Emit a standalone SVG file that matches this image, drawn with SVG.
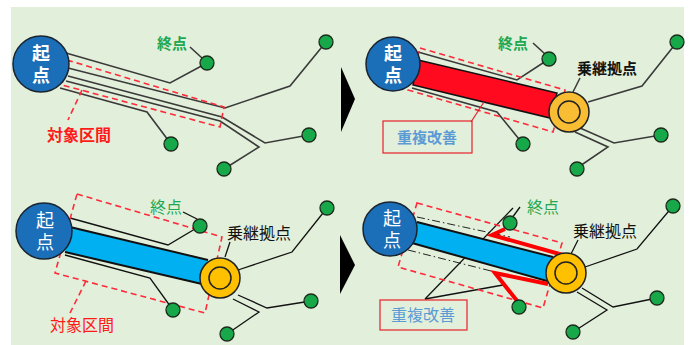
<svg xmlns="http://www.w3.org/2000/svg" width="693" height="345" viewBox="0 0 693 345">
<style>
.bg{fill:#E2EFDA}
.ln{fill:none;stroke:#3a3a3a;stroke-width:1.6}
.lnb{fill:none;stroke:#111;stroke-width:1.3}
.nd{fill:#17A84A;stroke:#1d2b1d;stroke-width:1.3}
.st{fill:#1B6EB8;stroke:#1a2430;stroke-width:1.5}
.hub{stroke:#222;stroke-width:1.5}
.dash{fill:none;stroke:#FF2A3A;stroke-width:1.6;stroke-dasharray:6 4}
.dd{fill:none;stroke:#222;stroke-width:1;stroke-dasharray:8 3 1.5 3}
.tw{font-family:"Noto Sans CJK JP",sans-serif;fill:#fff;text-anchor:middle;writing-mode:vertical-rl;letter-spacing:4px}
.tg{font-family:"Noto Sans CJK JP",sans-serif;fill:#1DA851}
.tk{font-family:"Noto Sans CJK JP",sans-serif;fill:#111}
.tr{font-family:"Noto Sans CJK JP",sans-serif;fill:#FF1A1A}
.tb{font-family:"Noto Sans CJK JP",sans-serif;fill:#5B9BD5;text-anchor:middle}
</style>
<rect x="11" y="7" width="673" height="338" class="bg"/>

<g id="arrows">
<polygon points="341,67 355,99 341,132" fill="#000"/>
<polygon points="340,235 355,265 340,294" fill="#000"/>
</g>

<g id="connectors">
<!-- Panel 1 -->
<polyline class="ln" points="66,53 170,83 207,63"/>
<polyline class="ln" points="68,68 225,108 290,86 326,42"/>
<polyline class="ln" points="68,76 222,117 265,143 309,135"/>
<polyline class="ln" points="66,81 220,121 259,147 224,169"/>
<polyline class="ln" points="60,88 147,112 171,144"/>
<line class="ln" x1="190" y1="47" x2="202" y2="58"/>

<!-- Panel 2 -->
<polyline class="ln" points="418,52 517,80 549,59"/>
<polyline class="ln" points="412,88 497,112 523,144"/>
<polyline class="ln" points="588,102 642,86 677,42"/>
<polyline class="ln" points="580,128 614,143 661,135"/>
<polyline class="ln" points="575,132 608,147 577,168"/>
<line class="ln" x1="533" y1="43" x2="545" y2="54"/>
<line class="ln" x1="580" y1="78" x2="573" y2="92"/>

<!-- Panel 3 -->
<polyline class="lnb" points="70,218 168,245 200,226"/>
<polyline class="lnb" points="65,255 150,278 173,310"/>
<polyline class="lnb" points="238,270 292,252 327,208"/>
<polyline class="lnb" points="238,295 267,308 311,301"/>
<polyline class="lnb" points="233,299 259,312 227,334"/>
<line class="lnb" x1="183" y1="212" x2="197" y2="219"/>
<line class="lnb" x1="230" y1="242" x2="225" y2="257"/>

<!-- Panel 4 -->
<polyline class="lnb" points="585,267 637,249 673,206"/>
<polyline class="lnb" points="582,288 613,307 657,298"/>
<polyline class="lnb" points="577,292 607,310 573,332"/>
<line class="lnb" x1="520" y1="207" x2="512" y2="218"/>
<line class="lnb" x1="578" y1="240" x2="571" y2="254"/>
<line class="dd" x1="417" y1="217" x2="510" y2="237"/>
<line class="dd" x1="408" y1="250" x2="495" y2="272"/>
<line class="lnb" x1="425" y1="299" x2="513" y2="208"/>
<line class="lnb" x1="425" y1="299" x2="503" y2="285"/>
</g>

<g id="bands">
<polygon points="418,60 557,93 550,118 413,85" fill="#FF0A1E" stroke="#111" stroke-width="1.5"/>
<polygon points="70,227 208,260 202,284 65,252" fill="#00B0F0"/>
<line x1="70" y1="227" x2="208" y2="260" stroke="#111" stroke-width="2"/>
<line x1="65" y1="252" x2="202" y2="284" stroke="#111" stroke-width="2"/>
<polygon points="417,222 553,257 547,281 412,243" fill="#00B0F0"/>
<line x1="417" y1="222" x2="553" y2="257" stroke="#111" stroke-width="2"/>
<line x1="412" y1="243" x2="547" y2="281" stroke="#111" stroke-width="2"/>
<polyline points="505,229 492,235 563,255" fill="none" stroke="#FF0000" stroke-width="4"/>
<polyline points="518,302 495,273 548,284" fill="none" stroke="#FF0000" stroke-width="4"/>
</g>

<g id="dashboxes">
<polyline class="dash" points="67,60 224,107 220,127 62,85 67,60"/>
<line class="dash" x1="82" y1="90" x2="68" y2="120"/>
<polygon class="dash" points="420,48 565,90 553,132 408,90"/>
<polygon class="dash" points="77,194 222,237 205,313 55,273"/>
<line class="dash" x1="86" y1="281" x2="70" y2="313"/>
<polygon class="dash" points="417,203 562,243 543,308 398,267"/>
</g>

<g id="labels-box">
<rect x="383" y="121" width="89" height="32" fill="none" stroke="#E8202A" stroke-width="1.2"/>
<line x1="471" y1="122" x2="484" y2="102" stroke="#E8202A" stroke-width="1.2"/>
<rect x="380" y="300" width="87" height="30" fill="none" stroke="#E8202A" stroke-width="1.2"/>
</g>

<g id="start1"><circle class="st" cx="41" cy="64" r="28"/><text class="tw" x="41" y="66" font-size="18" font-weight="bold">起点</text></g>
<g id="start2"><circle class="st" cx="393" cy="64" r="27"/><text class="tw" x="393" y="66" font-size="18" font-weight="bold">起点</text></g>
<g id="start3"><circle class="st" cx="44" cy="231" r="28"/><text class="tw" x="45" y="233" font-size="18">起点</text></g>
<g id="start4"><circle class="st" cx="390" cy="229" r="27"/><text class="tw" x="392" y="231" font-size="18">起点</text></g>

<g id="hub2"><circle class="hub" cx="569" cy="112" r="20" fill="#F9BD34"/><circle class="hub" cx="569" cy="112" r="11" fill="#F9BD34"/></g>
<g id="hub3"><circle class="hub" cx="220" cy="278" r="20" fill="#FFC000"/><circle class="hub" cx="220" cy="278" r="11" fill="#FFC000"/></g>
<g id="hub4"><circle class="hub" cx="566" cy="273" r="20" fill="#FFC000"/><circle class="hub" cx="566" cy="273" r="11" fill="#FFC000"/></g>

<g id="nodes">
<circle class="nd" cx="207" cy="63" r="7"/>
<circle class="nd" cx="326" cy="42" r="7"/>
<circle class="nd" cx="171" cy="144" r="7"/>
<circle class="nd" cx="309" cy="135" r="7"/>
<circle class="nd" cx="224" cy="169" r="7"/>
<circle class="nd" cx="549" cy="59" r="7"/>
<circle class="nd" cx="677" cy="42" r="7"/>
<circle class="nd" cx="523" cy="144" r="7"/>
<circle class="nd" cx="661" cy="135" r="7"/>
<circle class="nd" cx="577" cy="169" r="7"/>
<circle class="nd" cx="200" cy="226" r="7"/>
<circle class="nd" cx="173" cy="310" r="7"/>
<circle class="nd" cx="327" cy="208" r="7"/>
<circle class="nd" cx="311" cy="301" r="7"/>
<circle class="nd" cx="227" cy="334" r="7"/>
<circle class="nd" cx="510" cy="223" r="7"/>
<circle class="nd" cx="519" cy="307" r="7"/>
<circle class="nd" cx="673" cy="206" r="7"/>
<circle class="nd" cx="657" cy="298" r="7"/>
<circle class="nd" cx="573" cy="332" r="7"/>
</g>

<g id="texts">
<text class="tg" x="157" y="49" font-size="15" font-weight="bold">終点</text>
<text class="tr" x="47" y="141" font-size="16" font-weight="bold">対象区間</text>
<text class="tg" x="498" y="49" font-size="15" font-weight="bold">終点</text>
<text class="tk" x="577" y="74" font-size="15" font-weight="bold">乗継拠点</text>
<text class="tb" x="427" y="143" font-size="15" font-weight="bold">重複改善</text>
<text class="tg" x="150" y="213" font-size="16">終点</text>
<text class="tk" x="227" y="239" font-size="16">乗継拠点</text>
<text class="tr" x="50" y="331" font-size="16">対象区間</text>
<text class="tg" x="527" y="213" font-size="16">終点</text>
<text class="tk" x="573" y="237" font-size="16">乗継拠点</text>
<text class="tb" x="423" y="321" font-size="16">重複改善</text>
</g>
</svg>
